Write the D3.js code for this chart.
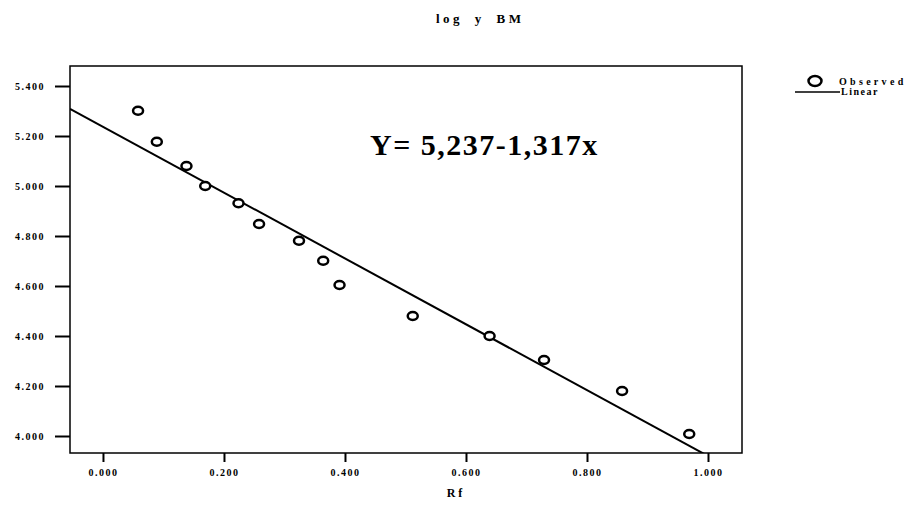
<!DOCTYPE html>
<html>
<head>
<meta charset="utf-8">
<title>log y BM</title>
<script src="https://d3js.org/d3.v7.min.js"></script>
<style>
  body { margin: 0; background: #fff; }
  svg text { font-family: "Liberation Serif", "Times New Roman", serif; font-weight: bold; fill: #000; }
  .axis path { display: none; }
  .axis line { stroke: #000; stroke-width: 2; }
  .axis text { font-size: 10px; letter-spacing: 1.5px; }
</style>
</head>
<body>
<script>
// observed points
var rf = [0.058, 0.089, 0.138, 0.169, 0.224, 0.258, 0.324, 0.364, 0.391, 0.512, 0.639, 0.729, 0.858, 0.969];
var logY = [5.301, 5.177, 5.080, 5.000, 4.931, 4.848, 4.781, 4.701, 4.604, 4.480, 4.400, 4.304, 4.180, 4.008];
// linear fit Y = 5,237 - 1,317x
var intercept = 5.237, slope = -1.317;
var xTicks = [0, 0.2, 0.4, 0.6, 0.8, 1.0];
var yTicks = [4.0, 4.2, 4.4, 4.6, 4.8, 5.0, 5.2, 5.4];

var W = 908, H = 505;
var frame = {left: 70, right: 742, top: 66, bottom: 453};

var svg = d3.select("body").append("svg")
    .attr("width", W)
    .attr("height", H);

var x = d3.scaleLinear().domain([-0.0545, 1.0562]).range([frame.left, frame.right]);
var y = d3.scaleLinear().domain([3.932, 5.48]).range([frame.bottom, frame.top]);

// title
svg.append("text")
    .attr("x", 436).attr("y", 23)
    .style("font-size", "13px")
    .style("letter-spacing", "3.5px")
    .style("word-spacing", "5px")
    .text("log y BM");

// clip for the fit line
svg.append("clipPath").attr("id", "plotclip")
  .append("rect")
    .attr("x", frame.left).attr("y", frame.top)
    .attr("width", frame.right - frame.left)
    .attr("height", frame.bottom - frame.top);

// axes
svg.append("g")
    .attr("class", "axis")
    .attr("transform", "translate(" + frame.left + ",0)")
    .call(d3.axisLeft(y).tickValues(yTicks).tickFormat(d3.format(".3f")).tickSize(15).tickPadding(10));

svg.append("g")
    .attr("class", "axis")
    .attr("transform", "translate(0," + frame.bottom + ")")
    .call(d3.axisBottom(x).tickValues(xTicks).tickFormat(d3.format(".3f")).tickSize(9).tickPadding(7));

// frame
svg.append("rect")
    .attr("x", frame.left).attr("y", frame.top)
    .attr("width", frame.right - frame.left)
    .attr("height", frame.bottom - frame.top)
    .attr("fill", "none")
    .attr("stroke", "#000")
    .attr("stroke-width", 1.5);

// fit line
var x0 = x.domain()[0], x1 = x.domain()[1];
svg.append("line")
    .attr("clip-path", "url(#plotclip)")
    .attr("x1", x(x0)).attr("y1", y(intercept + slope * x0))
    .attr("x2", x(x1)).attr("y2", y(intercept + slope * x1))
    .attr("stroke", "#000")
    .attr("stroke-width", 2);

// observed points
svg.append("g")
  .selectAll("ellipse")
  .data(rf)
  .enter().append("ellipse")
    .attr("cx", function(d) { return x(d); })
    .attr("cy", function(d, i) { return y(logY[i]); })
    .attr("rx", 5)
    .attr("ry", 4)
    .attr("fill", "#fff")
    .attr("stroke", "#000")
    .attr("stroke-width", 2.5);

// equation
svg.append("text")
    .attr("x", 370).attr("y", 155)
    .style("font-size", "30px")
    .style("letter-spacing", "1.5px")
    .text("Y= 5,237-1,317x");

// x axis label
svg.append("text")
    .attr("x", 456).attr("y", 497)
    .attr("text-anchor", "middle")
    .style("font-size", "12px")
    .style("letter-spacing", "3px")
    .text("Rf");

// legend
svg.append("ellipse")
    .attr("cx", 815).attr("cy", 81)
    .attr("rx", 6.5).attr("ry", 5)
    .attr("fill", "#fff")
    .attr("stroke", "#000")
    .attr("stroke-width", 2.5);
svg.append("text")
    .attr("x", 839).attr("y", 85)
    .style("font-size", "10px")
    .style("letter-spacing", "3.3px")
    .text("Observed");
svg.append("line")
    .attr("x1", 795).attr("x2", 840)
    .attr("y1", 92).attr("y2", 92)
    .attr("stroke", "#000")
    .attr("stroke-width", 1.5);
svg.append("text")
    .attr("x", 841).attr("y", 95)
    .style("font-size", "10px")
    .style("letter-spacing", "1.5px")
    .text("Linear");
</script>
</body>
</html>
